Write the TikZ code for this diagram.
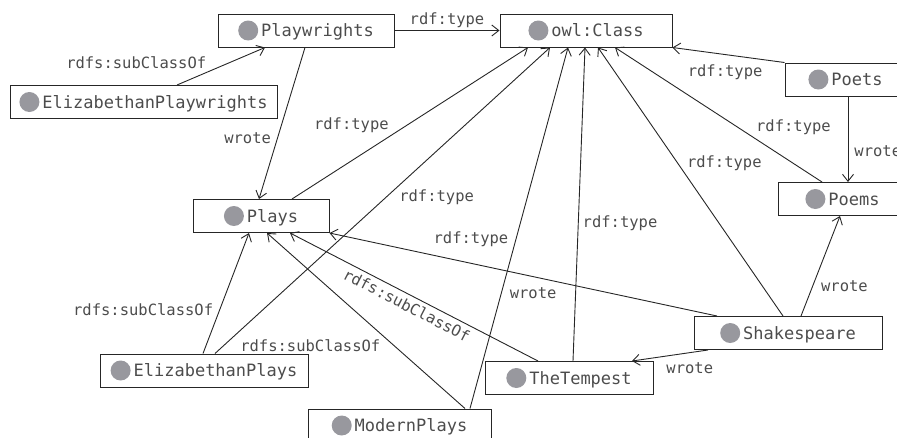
\documentclass[tikz,border=0pt]{standalone}
\usepackage{fontspec}
\setmonofont{DejaVu Sans Mono}
\usetikzlibrary{arrows.meta}
\definecolor{dotgray}{RGB}{152,152,158}
\newcommand{\clsdot}{\tikz[baseline=-6pt]\fill[dotgray] (0,0) circle (10pt);}

\begin{document}
\begin{tikzpicture}[x=1pt,y=-1pt,>={Straight Barb[length=7pt,width=11pt]},line width=0.9pt,draw=black!85,
	cls/.style={draw=black!85,line width=1pt,minimum height=33pt,inner sep=0pt,text=black!70,font=\ttfamily\fontsize{17}{20}\selectfont},
	lbl/.style={inner sep=2pt,text=black!70,font=\ttfamily\fontsize{15.5}{18}\selectfont}]
	\clip (0,0) rectangle (897,437);
	\foreach \n/\x/\y/\w/\txt in {pw/306/30.5/176pt/Playwrights,owl/586/30.5/172pt/owl:Class,epw/143.5/102/267pt/ElizabethanPlaywrights,plays/261/216/136pt/Plays,poets/845.5/79.5/121pt/Poets,poems/842.5/199/129pt/Poems,sh/788/333/188pt/Shakespeare,tt/569/378/168pt/TheTempest,eplays/204/370.5/208pt/ElizabethanPlays,mp/399.5/425.5/183pt/ModernPlays}{
		\node[cls,minimum width=\w] (\n) at (\x,\y) {\clsdot\hspace{3pt}\txt};
	}
	\draw[->] ([xshift=33.5pt]epw.north) -- ([xshift=-41pt]pw.south) node[lbl,pos=0.36,anchor=south east] {rdfs:subClassOf};
	\draw[->] (pw) -- (owl) node[lbl,midway,above] {rdf:type};
	\draw[->] ([xshift=-1pt]pw.south) -- ([xshift=-2pt]plays.north) node[lbl,pos=0.6,left=4pt] {wrote};
	\draw[->] ([xshift=31pt]plays.north) -- ([xshift=-58pt]owl.south) node[lbl,pos=0.42,above left] {rdf:type};
	\draw[->] ([xshift=11pt]eplays.north) -- ([xshift=-36pt]owl.south) node[lbl,pos=0.51,right=11pt] {rdf:type};
	\draw[->] ([xshift=70.5pt]mp.north) -- ([xshift=-18pt]owl.south) node[lbl,pos=0.32,right=6pt] {wrote};
	\draw[->] ([xshift=4pt]tt.north) -- ([xshift=-1pt]owl.south) node[lbl,pos=0.44,right=2pt] {rdf:type};
	\draw[->] ([xshift=-5pt]sh.north) -- ([xshift=12pt]owl.south) node[lbl,pos=0.57,right=7pt] {rdf:type};
	\draw[->] ([xshift=-20.5pt]poems.north) -- ([xshift=29pt]owl.south) node[lbl,pos=0.33,above right] {rdf:type};
	\draw[->] (poets.north west) -- (owl.south east) node[lbl,pos=0.53,below=8pt] {rdf:type};
	\draw[->] ([xshift=2.5pt]poets.south) -- ([xshift=5.5pt]poems.north) node[lbl,pos=0.64,right=4pt] {wrote};
	\draw[->] ([xshift=13pt]sh.north) -- ([xshift=-2.5pt]poems.south) node[lbl,pos=0.3,right=6pt] {wrote};
	\draw[->] ([xshift=-80pt]sh.south) -- ([xshift=63pt]tt.north) node[lbl,pos=0.24,below=8pt] {wrote};
	\draw[->] ([xshift=-71pt]sh.north) -- (plays.south east) node[lbl,pos=0.635,above=14pt] {rdf:type};
	\draw[->] ([xshift=-31pt]tt.north) -- ([xshift=29pt]plays.south) node[lbl,pos=0.51,sloped,below=2pt] {rdfs:subClassOf};
	\draw[->] ([xshift=65.5pt]mp.north) -- ([xshift=6pt]plays.south) node[lbl,pos=0.36,left=11pt] {rdfs:subClassOf};
	\draw[->] ([xshift=-1pt]eplays.north) -- ([xshift=-12pt]plays.south) node[lbl,pos=0.36,left=4pt] {rdfs:subClassOf};
\end{tikzpicture}
\end{document}
